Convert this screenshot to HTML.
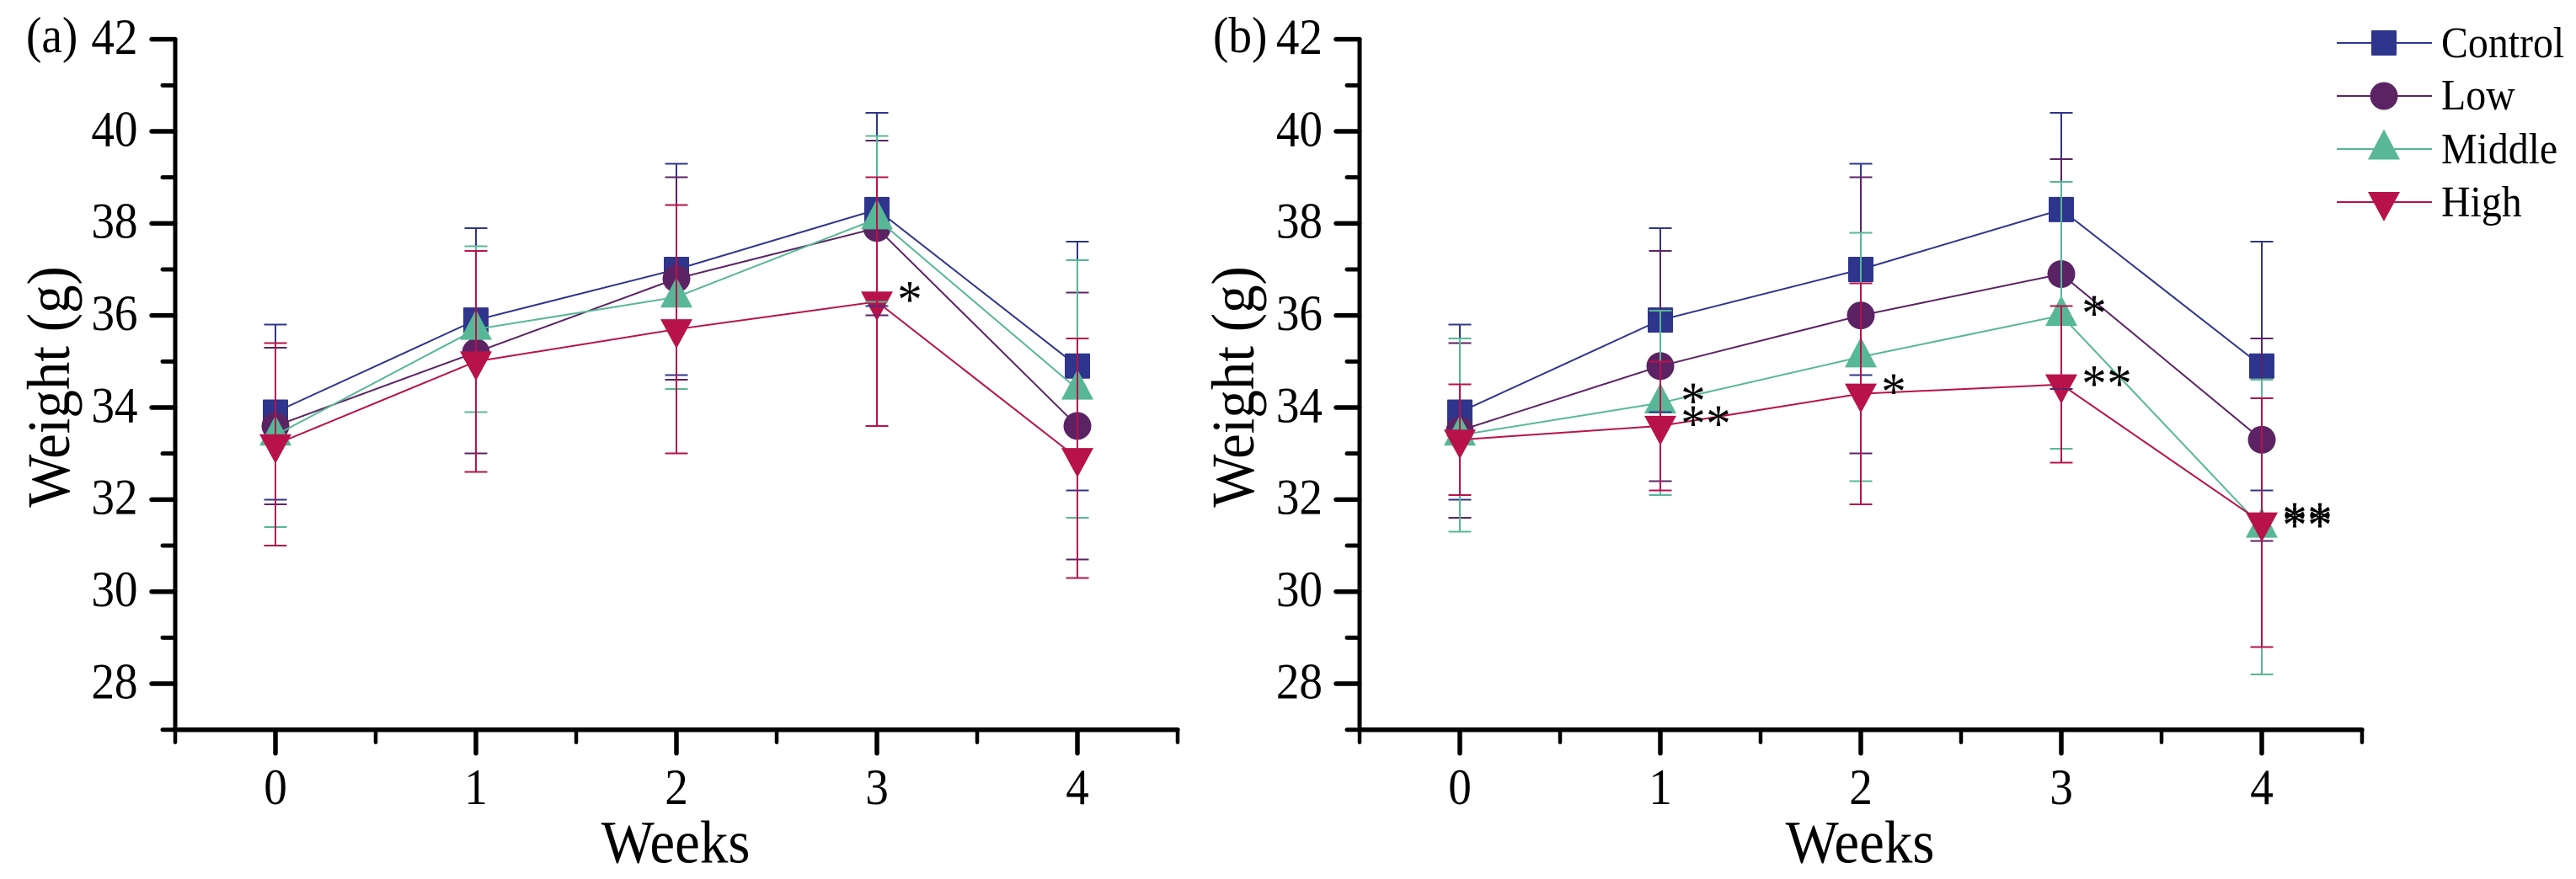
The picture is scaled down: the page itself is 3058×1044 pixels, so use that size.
<!DOCTYPE html>
<html lang="en">
<head>
<meta charset="utf-8">
<title>Weight over weeks</title>
<style>
  html, body { margin: 0; padding: 0; background: #fff; }
  svg { display: block; font-family: "Liberation Serif", serif; fill: #000; }
</style>
</head>
<body>
<svg id="chart" xmlns="http://www.w3.org/2000/svg" width="3058" height="1044" viewBox="0 0 3058 1044">
  <rect x="0" y="0" width="3058" height="1044" fill="#fff"/>
  <g id="panel-a"></g>
  <g id="panel-b"></g>
  <text transform="translate(31,62) scale(0.92,1)" font-size="60">(a)</text>
  <text transform="translate(1440,62) scale(0.92,1)" font-size="60">(b)</text>
  <text transform="translate(82,459.5) rotate(-90) scale(0.93,1)" font-size="72" text-anchor="middle">Weight (g)</text>
  <text transform="translate(1488,459.5) rotate(-90) scale(0.93,1)" font-size="72" text-anchor="middle">Weight (g)</text>
  <text transform="translate(802,1024.5) scale(0.93,1)" font-size="72" text-anchor="middle">Weeks</text>
  <text transform="translate(2208,1024.5) scale(0.93,1)" font-size="72" text-anchor="middle">Weeks</text>
  <g id="legend"></g>
</svg>
<script>
// ---- data ----
const weeks = [0, 1, 2, 3, 4];
const yMajorTicks = [28, 30, 32, 34, 36, 38, 40, 42];
const yMinorTicks = [27, 29, 31, 33, 35, 37, 39, 41];
const xMinorTicks = [-0.5, 0.5, 1.5, 2.5, 3.5, 4.5];
const seriesNames = ['Control', 'Low', 'Middle', 'High'];

const aControl = [33.9, 35.9, 37.0, 38.3, 34.9];
const aControlSd = [1.9, 2.0, 2.3, 2.1, 2.7];
const aLow = [33.6, 35.2, 36.8, 37.9, 33.6];
const aLowSd = [1.7, 2.2, 2.2, 1.9, 2.9];
const aMiddle = [33.4, 35.7, 36.4, 38.1, 34.4];
const aMiddleSd = [2.0, 1.8, 2.0, 1.8, 2.8];
const aHigh = [33.2, 35.0, 35.7, 36.3, 32.9];
const aHighSd = [2.2, 2.4, 2.7, 2.7, 2.6];

const bControl = [33.9, 35.9, 37.0, 38.3, 34.9];
const bControlSd = [1.9, 2.0, 2.3, 2.1, 2.7];
const bLow = [33.5, 34.9, 36.0, 36.9, 33.3];
const bLowSd = [1.9, 2.5, 3.0, 2.5, 2.2];
const bMiddle = [33.4, 34.1, 35.1, 36.0, 31.4];
const bMiddleSd = [2.1, 2.0, 2.7, 2.9, 3.2];
const bHigh = [33.3, 33.6, 34.3, 34.5, 31.5];
const bHighSd = [1.2, 1.4, 2.4, 1.7, 2.7];

// significance marks: week, weight level of the mark, number of asterisks
const aStarWeeks = [3];
const aStarLevels = [36.5];
const aStarCounts = [1];
const bStarWeeks = [1, 1, 2, 3, 3, 4, 4];
const bStarLevels = [34.3, 33.8, 34.5, 36.2, 34.67, 31.7, 31.6];
const bStarCounts = [1, 2, 1, 1, 2, 2, 2];

// ---- drawing ----
const NS = 'http://www.w3.org/2000/svg';
const colors = ['#2e358c', '#5b2364', '#57b796', '#b8124b'];
const shapes = ['square', 'circle', 'up', 'down'];

function make(tag, attrs, parent) {
  const el = document.createElementNS(NS, tag);
  for (const k in attrs) el.setAttribute(k, attrs[k]);
  parent.appendChild(el);
  return el;
}

function yScale(v) { return 866.7 - (v - 27) * 54.67; }

function drawMarker(parent, shape, cx, cy, color) {
  let m;
  if (shape === 'square') {
    m = make('rect', { x: cx - 15, y: cy - 15, width: 30, height: 30, rx: 1, fill: color }, parent);
  } else if (shape === 'circle') {
    m = make('circle', { cx: cx, cy: cy, r: 16.5, fill: color }, parent);
  } else if (shape === 'up') {
    m = make('polygon', { points: (cx - 19) + ',' + (cy + 12.5) + ' ' + (cx + 19) + ',' + (cy + 12.5) + ' ' + cx + ',' + (cy - 23.5), fill: color }, parent);
  } else {
    m = make('polygon', { points: (cx - 19) + ',' + (cy - 12) + ' ' + (cx + 19) + ',' + (cy - 12) + ' ' + cx + ',' + (cy + 23), fill: color }, parent);
  }
  
  
  return m;
}

function drawPanel(root, x0, labelRight, means, sds, starWeeks, starLevels, starCounts) {
  const xScale = function (w) { return x0 + w * 238; };
  const axisLeft = xScale(-0.5);
  const axisRight = xScale(4.5);
  const axisBottom = yScale(27);
  const axisTop = yScale(42);

  const axes = make('g', { stroke: '#000', 'stroke-linecap': 'round' }, root);
  
  

  const yAxis = make('line', { x1: axisLeft, x2: axisLeft, y1: axisTop, y2: axisBottom, 'stroke-width': 5 }, axes);
  
  
  const xAxis = make('line', { x1: axisLeft, x2: axisRight, y1: axisBottom, y2: axisBottom, 'stroke-width': 5.5 }, axes);
  
  

  yMajorTicks.forEach(function (v) {
    const t = make('line', { x1: axisLeft - 28, x2: axisLeft, y1: yScale(v), y2: yScale(v), 'stroke-width': 5.5 }, axes);
    
    
    const lab = make('text', { transform: 'translate(' + labelRight + ',' + (yScale(v) + 17.3) + ') scale(0.92,1)', 'font-size': 60, 'text-anchor': 'end', stroke: 'none' }, root);
    
    
    lab.textContent = String(v);
  });
  yMinorTicks.forEach(function (v) {
    const t = make('line', { x1: axisLeft - 15, x2: axisLeft, y1: yScale(v), y2: yScale(v), 'stroke-width': 5 }, axes);
    
    
  });
  weeks.forEach(function (w) {
    const t = make('line', { x1: xScale(w), x2: xScale(w), y1: axisBottom, y2: axisBottom + 28, 'stroke-width': 5.5 }, axes);
    
    
    const lab = make('text', { transform: 'translate(' + xScale(w) + ',955) scale(0.92,1)', 'font-size': 60, 'text-anchor': 'middle' }, root);
    
    
    lab.textContent = String(w);
  });
  xMinorTicks.forEach(function (w) {
    const t = make('line', { x1: xScale(w), x2: xScale(w), y1: axisBottom, y2: axisBottom + 15, 'stroke-width': 4.5 }, axes);
    
    
  });

  // lines and markers
  means.forEach(function (vals, i) {
    const g = make('g', {}, root);
    
    
    const pts = vals.map(function (v, k) { return xScale(weeks[k]) + ',' + yScale(v); }).join(' ');
    const line = make('polyline', { points: pts, fill: 'none', stroke: colors[i], 'stroke-width': 2 }, g);
    
    
    vals.forEach(function (v, k) {
      drawMarker(g, shapes[i], xScale(weeks[k]), yScale(v), colors[i]);
    });
  });

  // error bars on top of the markers
  means.forEach(function (vals, i) {
    const g = make('g', { stroke: colors[i], 'stroke-width': 2, fill: 'none', 'shape-rendering': 'crispEdges' }, root);
    
    
    vals.forEach(function (v, k) {
      const x = xScale(weeks[k]);
      const top = yScale(v + sds[i][k]);
      const bot = yScale(v - sds[i][k]);
      const p = make('path', { d: 'M' + x + ' ' + top + 'V' + bot + 'M' + (x - 13.5) + ' ' + top + 'H' + (x + 13.5) + 'M' + (x - 13.5) + ' ' + bot + 'H' + (x + 13.5) }, g);
      
      
    });
  });

  // significance asterisks
  starWeeks.forEach(function (w, i) {
    for (let n = 0; n < starCounts[i]; n++) {
      const s = make('text', { transform: 'translate(' + (xScale(w) + 39 + n * 30) + ',' + (yScale(starLevels[i]) + 29.8) + ') scale(0.92,1)', 'font-size': 64, 'text-anchor': 'middle' }, root);
      
      
      s.textContent = '*';
    }
  });
}

drawPanel(document.getElementById('panel-a'), 327, 163.5,
  [aControl, aLow, aMiddle, aHigh], [aControlSd, aLowSd, aMiddleSd, aHighSd],
  aStarWeeks, aStarLevels, aStarCounts);
drawPanel(document.getElementById('panel-b'), 1733, 1570,
  [bControl, bLow, bMiddle, bHigh], [bControlSd, bLowSd, bMiddleSd, bHighSd],
  bStarWeeks, bStarLevels, bStarCounts);

// legend
const legend = document.getElementById('legend');
const legendLineY = [51, 114, 177, 240];
const legendTextY = [68, 130, 194, 257];
seriesNames.forEach(function (name, i) {
  const g = make('g', {}, legend);
  
  
  const l = make('line', { x1: 2774, x2: 2887, y1: legendLineY[i], y2: legendLineY[i], stroke: colors[i], 'stroke-width': 2 }, g);
  
  
  drawMarker(g, shapes[i], 2830, legendLineY[i], colors[i]);
  const t = make('text', { transform: 'translate(2898,' + legendTextY[i] + ') scale(0.92,1)', 'font-size': 52 }, g);
  
  
  t.textContent = name;
});
</script>
</body>
</html>
